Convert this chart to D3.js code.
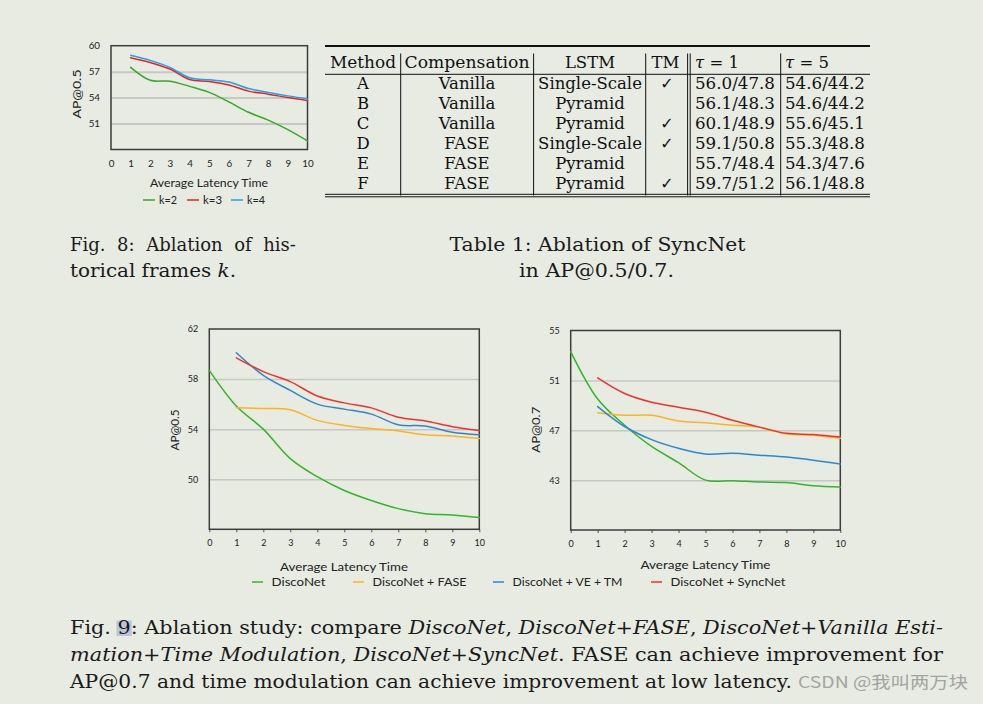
<!DOCTYPE html>
<html><head><meta charset="utf-8">
<script src="https://cdn.jsdelivr.net/npm/d3@7/dist/d3.min.js"></script>
<style>body{margin:0;background:#e7ebe1;}svg{display:block;}</style>
</head><body>
<script>
// ---------------- DATA ----------------
const latency = [0,1,2,3,4,5,6,7,8,9,10];
const latencyFrom1 = [1,2,3,4,5,6,7,8,9,10];
const xTickLabels = latency;

// Fig. 8 : AP@0.5 for historical frames k
const fig8YTicks = [51,54,57,60];
const fig8Grid = [51,54,57];
const fig8K2 = [57.5, 56.0, 55.9, 55.3, 54.6, 53.5, 52.3, 51.4, 50.3, 49.0];
const fig8K3 = [58.6, 58.05, 57.3, 56.1, 55.85, 55.45, 54.75, 54.4, 54.0, 53.65];
const fig8K4 = [58.9, 58.3, 57.5, 56.3, 56.05, 55.8, 55.05, 54.6, 54.2, 53.85];
const fig8Names = ["k=2","k=3","k=4"];

// Fig. 9 left : AP@0.5
const fig9LeftYTicks = [50,54,58,62];
const fig9LeftGrid = [50,54,58];
const discoNet05 = [58.7, 55.85, 54.0, 51.65, 50.2, 49.1, 48.3, 47.65, 47.25, 47.15, 46.95];
const fase05     = [55.7, 55.65, 55.55, 54.7, 54.3, 54.05, 53.85, 53.55, 53.45, 53.25];
const veTm05     = [60.1, 58.3, 57.1, 56.0, 55.6, 55.2, 54.35, 54.25, 53.75, 53.55];
const syncNet05  = [59.7, 58.6, 57.8, 56.65, 56.1, 55.7, 54.95, 54.65, 54.2, 53.9];

// Fig. 9 right : AP@0.7
const fig9RightYTicks = [43,47,51,55];
const fig9RightGrid = [43,47,51];
const discoNet07 = [53.3, 49.5, 47.4, 45.7, 44.4, 43.0, 42.95, 42.85, 42.8, 42.55, 42.45];
const fase07     = [48.4, 48.2, 48.2, 47.75, 47.6, 47.4, 47.25, 46.7, 46.6, 46.35];
const veTm07     = [48.9, 47.3, 46.25, 45.55, 45.1, 45.15, 45.0, 44.85, 44.6, 44.3];
const syncNet07  = [51.2, 49.95, 49.25, 48.85, 48.45, 47.8, 47.25, 46.75, 46.65, 46.45];
const fig9Names = ["DiscoNet","DiscoNet + FASE","DiscoNet + VE + TM","DiscoNet + SyncNet"];

// Table 1
const tableHeaders = ["Method","Compensation","LSTM","TM","τ = 1","τ = 5"];
const tableMethods = ["A","B","C","D","E","F"];
const tableCompensation = ["Vanilla","Vanilla","Vanilla","FASE","FASE","FASE"];
const tableLSTM = ["Single-Scale","Pyramid","Pyramid","Single-Scale","Pyramid","Pyramid"];
const tableTM = [true,false,true,true,false,true];
const tableTau1 = ["56.0/47.8","56.1/48.3","60.1/48.9","59.1/50.8","55.7/48.4","59.7/51.2"];
const tableTau5 = ["54.6/44.2","54.6/44.2","55.6/45.1","55.3/48.8","54.3/47.6","56.1/48.8"];

// ---------------- DRAW ----------------
const W = 983, H = 704;
const svg = d3.select("body").append("svg").attr("width", W).attr("height", H);
svg.append("rect").attr("width", W).attr("height", H).attr("fill", "#e7ebe1");

const SANS = "Lato, 'Open Sans', sans-serif";
const SERIF = "'DejaVu Serif', 'Liberation Serif', serif";
const TXT = "#222";

function fit(sel, target) {
  sel.attr("textLength", target).attr("lengthAdjust", "spacingAndGlyphs");
  return sel;
}
function justify(sel, target) {
  const node = sel.node();
  const w = node.getComputedTextLength();
  const n = (node.textContent.match(/ /g) || []).length;
  if (w < target && n > 0) sel.attr("word-spacing", (target - w) / n);
  else fit(sel, target);
}

function drawChart(cfg) {
  const x = d3.scaleLinear().domain([0, 10]).range([cfg.x0, cfg.x1]);
  const y = d3.scaleLinear().domain(cfg.yDomain).range([cfg.y1, cfg.y0]);
  const g = svg.append("g");
  const grid = g.append("g").attr("transform", `translate(${cfg.x0},0)`)
    .call(d3.axisLeft(y).tickValues(cfg.grid).tickSize(-(cfg.x1 - cfg.x0)).tickFormat(""));
  grid.select(".domain").remove();
  grid.selectAll("line").attr("stroke", "#c6c8c4").attr("stroke-width", cfg.gridW);
  const xa = g.append("g").attr("transform", `translate(0,${cfg.y1})`)
    .call(d3.axisBottom(x).tickValues(xTickLabels).tickSize(cfg.xTick).tickPadding(cfg.xPad).tickFormat(d3.format("d")));
  xa.select(".domain").remove();
  xa.selectAll("line").attr("stroke", "#555");
  xa.selectAll("text").attr("fill", TXT).style("font-family", SANS).style("font-size", cfg.tickFont + "px");
  const ya = g.append("g").attr("transform", `translate(${cfg.x0},0)`)
    .call(d3.axisLeft(y).tickValues(cfg.yTicks).tickSize(0).tickPadding(11).tickFormat(d3.format("d")));
  ya.select(".domain").remove();
  ya.selectAll("text").attr("fill", TXT).style("font-family", SANS).style("font-size", cfg.tickFont + "px");
  g.append("rect").attr("x", cfg.x0).attr("y", cfg.y0)
    .attr("width", cfg.x1 - cfg.x0).attr("height", cfg.y1 - cfg.y0)
    .attr("fill", "none").attr("stroke", "#3c3c3c").attr("stroke-width", 1.5);
  const line = d3.line().x(d => x(d[0])).y(d => y(d[1])).curve(d3.curveCatmullRom.alpha(0.5));
  cfg.series.forEach(s => {
    g.append("path").datum(s.xs.map((v, i) => [v, s.vals[i]]))
      .attr("d", line).attr("fill", "none").attr("stroke", s.color)
      .attr("stroke-width", cfg.lineW).attr("stroke-linejoin", "round").attr("stroke-linecap", "round");
  });
  fit(g.append("text").attr("x", cfg.xTitle[0]).attr("y", cfg.xTitle[1]).attr("text-anchor", "middle")
    .attr("dy", "0.35em").attr("fill", TXT).style("font-family", SANS).style("font-size", cfg.titleFont + "px")
    .text("Average Latency Time"), cfg.xTitle[2]);
  fit(g.append("text").attr("transform", `translate(${cfg.yTitle[0]},${cfg.yTitle[1]}) rotate(-90)`)
    .attr("text-anchor", "middle").attr("dy", "0.35em").attr("fill", TXT)
    .style("font-family", SANS).style("font-size", cfg.titleFont + "px")
    .text(cfg.yLabel), cfg.yTitle[2]);
}

const c8 = ["#36a82a", "#e8231d", "#1ea2f2"];
const c9 = ["#33b52c", "#ffb31e", "#2b88cf", "#f0322a"];

drawChart({
  x0: 111, x1: 307.5, y0: 45.7, y1: 149.5, yDomain: [48, 60],
  yTicks: fig8YTicks, grid: fig8Grid, gridW: 2, xTick: 0, xPad: 10.3, tickFont: 9.8,
  lineW: 1.5, titleFont: 11, xTitle: [209, 183.5, 118], yTitle: [77, 94, 49], yLabel: "AP@0.5",
  series: [
    { xs: latencyFrom1, vals: fig8K2, color: c8[0] },
    { xs: latencyFrom1, vals: fig8K3, color: c8[1] },
    { xs: latencyFrom1, vals: fig8K4, color: c8[2] }
  ]
});
drawChart({
  x0: 209.3, x1: 479.3, y0: 329, y1: 529.3, yDomain: [46, 62],
  yTicks: fig9LeftYTicks, grid: fig9LeftGrid, gridW: 1.5, xTick: 3, xPad: 7.3, tickFont: 9,
  lineW: 1.5, titleFont: 11, xTitle: [344, 567.3, 128], yTitle: [175.5, 430, 41], yLabel: "AP@0.5",
  series: [
    { xs: latency, vals: discoNet05, color: c9[0] },
    { xs: latencyFrom1, vals: fase05, color: c9[1] },
    { xs: latencyFrom1, vals: veTm05, color: c9[2] },
    { xs: latencyFrom1, vals: syncNet05, color: c9[3] }
  ]
});
drawChart({
  x0: 570.7, x1: 840.3, y0: 330.5, y1: 530, yDomain: [39, 55],
  yTicks: fig9RightYTicks, grid: fig9RightGrid, gridW: 1.5, xTick: 3, xPad: 7.3, tickFont: 9,
  lineW: 1.5, titleFont: 11, xTitle: [705.5, 565.3, 130], yTitle: [536, 429.7, 46], yLabel: "AP@0.7",
  series: [
    { xs: latency, vals: discoNet07, color: c9[0] },
    { xs: latencyFrom1, vals: fase07, color: c9[1] },
    { xs: latencyFrom1, vals: veTm07, color: c9[2] },
    { xs: latencyFrom1, vals: syncNet07, color: c9[3] }
  ]
});

// legends
const leg8X = [143, 187, 231], leg8W = [18, 19, 18];
fig8Names.forEach((n, i) => {
  svg.append("line").attr("x1", leg8X[i]).attr("x2", leg8X[i] + 12).attr("y1", 200).attr("y2", 200)
    .attr("stroke", c8[i]).attr("stroke-width", 1.5);
  fit(svg.append("text").attr("x", leg8X[i] + 16).attr("y", 200).attr("dy", "0.35em").attr("fill", TXT)
    .style("font-family", SANS).style("font-size", "10.5px").text(n), leg8W[i]);
});
const leg9X = [252, 353, 493, 651], leg9W = [54, 94, 110, 115];
fig9Names.forEach((n, i) => {
  svg.append("line").attr("x1", leg9X[i]).attr("x2", leg9X[i] + 11).attr("y1", 582).attr("y2", 582)
    .attr("stroke", c9[i]).attr("stroke-width", 1.5);
  fit(svg.append("text").attr("x", leg9X[i] + 19.5).attr("y", 582).attr("dy", "0.35em").attr("fill", TXT)
    .style("font-family", SANS).style("font-size", "11.5px").text(n), leg9W[i]);
});

// ---------------- TABLE ----------------
const T = svg.append("g").style("font-family", SERIF).attr("fill", "#111");
const colCenters = [363, 467, 590, 665.5];
const tauX = [695, 785];
const valCenters = [735, 825];
const headerBase = 67.7;
const rowBase = tableMethods.map((d, i) => 89.3 + i * 20);
T.append("line").attr("x1", 325).attr("x2", 870).attr("y1", 46).attr("y2", 46).attr("stroke", "#111").attr("stroke-width", 2);
T.append("line").attr("x1", 325).attr("x2", 870).attr("y1", 74.3).attr("y2", 74.3).attr("stroke", "#111").attr("stroke-width", 1);
[194.3, 196.8].forEach(yy => T.append("line").attr("x1", 325).attr("x2", 870).attr("y1", yy).attr("y2", yy).attr("stroke", "#111").attr("stroke-width", 1));
[400.7, 533.6, 645.7, 687.6, 690.2, 780.7].forEach(xx =>
  T.append("line").attr("x1", xx).attr("x2", xx).attr("y1", 53.5).attr("y2", 195.5).attr("stroke", "#111").attr("stroke-width", 1));
const headW = [66, 125, 0, 0];
tableHeaders.slice(0, 4).forEach((h, i) => {
  const t = T.append("text").attr("x", colCenters[i]).attr("y", headerBase).attr("text-anchor", "middle")
    .style("font-size", "16.5px").text(h);
  if (headW[i]) fit(t, headW[i]);
});
tableHeaders.slice(4).forEach((h, i) => {
  const t = T.append("text").attr("x", tauX[i]).attr("y", headerBase).style("font-size", "16.5px");
  t.append("tspan").style("font-style", "italic").text(h.charAt(0));
  t.append("tspan").text(h.slice(1));
});
tableMethods.forEach((m, i) => {
  const yb = rowBase[i];
  [m, tableCompensation[i], tableLSTM[i]].forEach((v, j) => {
    T.append("text").attr("x", colCenters[j]).attr("y", yb).attr("text-anchor", "middle")
      .style("font-size", "16.5px").text(v);
  });
  if (tableTM[i]) T.append("text").attr("x", 667).attr("y", yb).attr("text-anchor", "middle")
    .style("font-size", "16px").style("font-family", "'DejaVu Sans', sans-serif").text("✓");
  [tableTau1[i], tableTau5[i]].forEach((v, j) => {
    fit(T.append("text").attr("x", valCenters[j]).attr("y", yb).attr("text-anchor", "middle")
      .style("font-size", "16.5px").text(v), 80);
  });
});

// ---------------- CAPTIONS ----------------
const C = svg.append("g").style("font-family", SERIF).style("font-size", "18px").attr("fill", "#1a1a1a");
const hl = C.append("g");
function capLine(x, y, parts, anchor) {
  const t = C.append("text").attr("x", x).attr("y", y);
  if (anchor) t.attr("text-anchor", anchor);
  parts.forEach(p => {
    const ts = t.append("tspan").text(p[0]);
    if (p[1]) ts.style("font-style", "italic");
  });
  return t;
}
justify(capLine(70, 250.5, [["Fig. 8:  Ablation  of  his-"]]), 243.5);
fit(capLine(70, 277, [["torical frames "], ["k", 1], ["."]]), 166);
fit(capLine(597.5, 250.5, [["Table 1: Ablation of SyncNet"]], "middle"), 296);
fit(capLine(596.5, 277, [["in AP@0.5/0.7."]], "middle"), 155);

const l1 = capLine(70, 634.3, [["Fig. 9: Ablation study: compare "], ["DiscoNet", 1], [", "], ["DiscoNet+FASE", 1], [", "], ["DiscoNet+Vanilla Esti-", 1]]);
fit(l1, 873);
fit(capLine(70, 661, [["mation+Time Modulation", 1], [", "], ["DiscoNet+SyncNet", 1], [". FASE can achieve improvement for"]]), 873);
fit(capLine(70, 687.7, [["AP@0.7 and time modulation can achieve improvement at low latency."]]), 722);

const ext = l1.node().getExtentOfChar(5);
hl.append("rect").attr("x", ext.x - 1).attr("y", 620.5).attr("width", ext.width + 2).attr("height", 15.5).attr("fill", "#bcc5d8");

fit(svg.append("text").attr("x", 798).attr("y", 688).attr("fill", "#a2a4a2")
  .style("font-family", "'Noto Sans CJK SC', 'Noto Sans', sans-serif").style("font-size", "16px")
  .text("CSDN @我叫两万块"), 170);
</script>
</body></html>
